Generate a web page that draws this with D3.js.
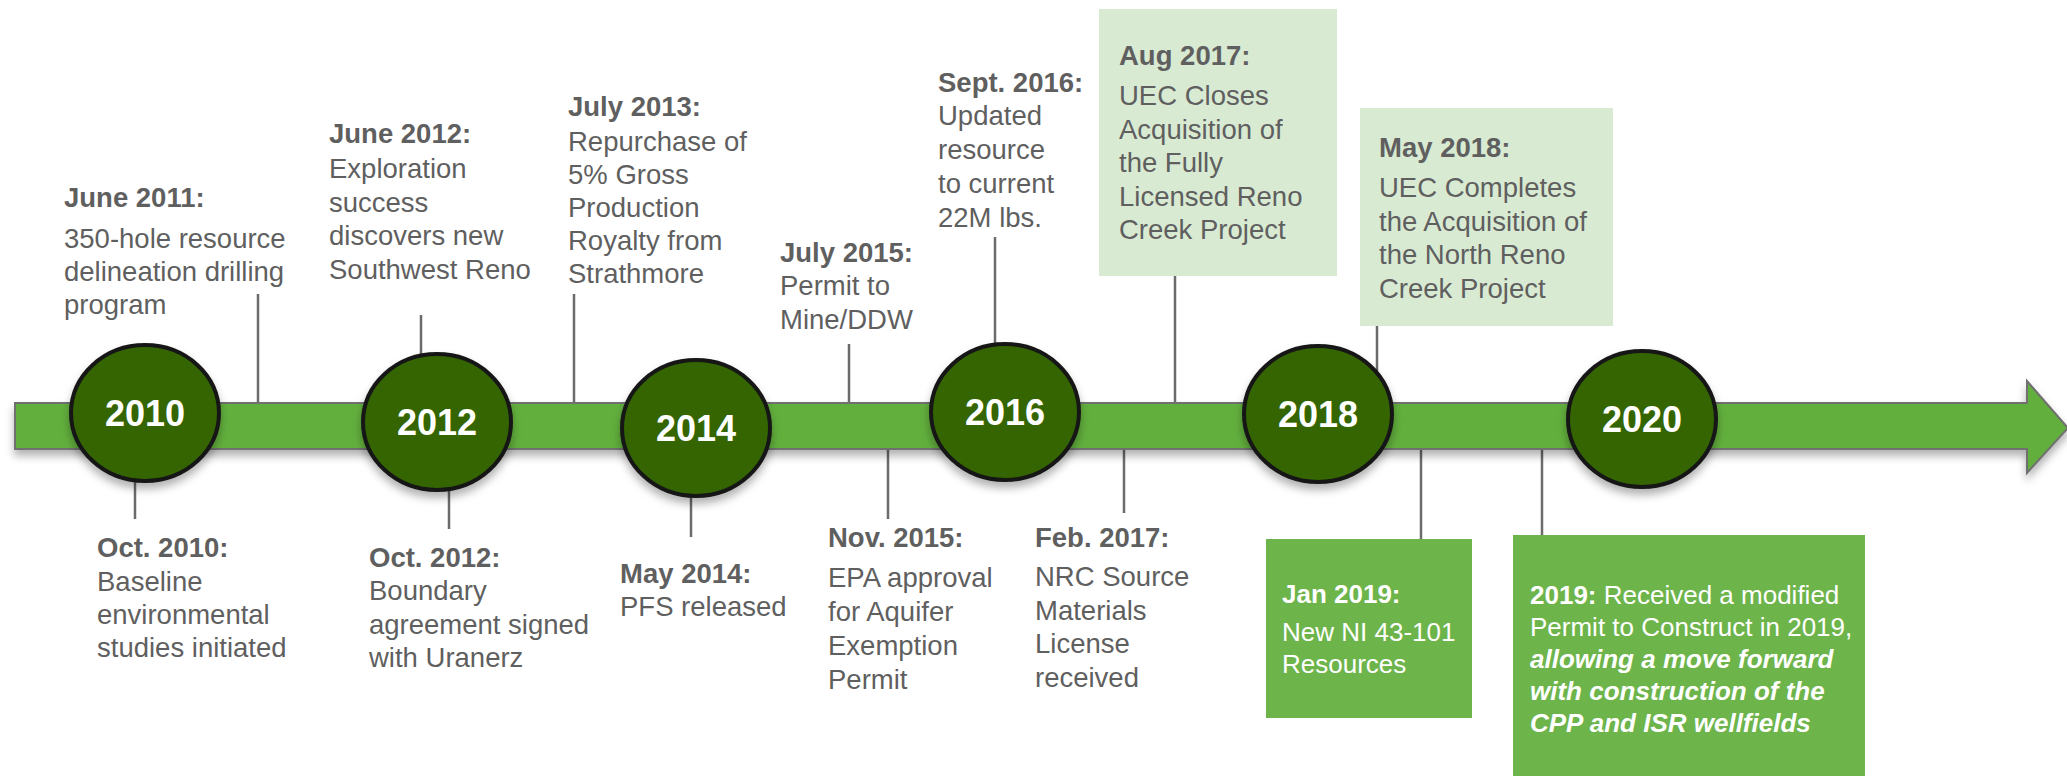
<!DOCTYPE html>
<meta charset='utf-8'>

<style>
  body { margin: 0; background: #fff; }
  svg text { font-family: "Liberation Sans", Arial, Helvetica, sans-serif; }
  .event-title { font-weight: bold; }
  .emph { font-weight: bold; font-style: italic; }
  .year { font-weight: bold; fill: #fff; }
  .connector { stroke: #6b6b6b; stroke-width: 2.5; }
</style>

<svg width="2067" height="776"></svg>

<script src="https://d3js.org/d3.v7.min.js"></script>

<script>

// ---- data ----
var years = [2010, 2012, 2014, 2016, 2018, 2020];

var eventDates = ["Oct. 2010:", "June 2011:", "June 2012:", "Oct. 2012:", "July 2013:",
                  "May 2014:", "July 2015:", "Nov. 2015:", "Sept. 2016:", "Feb. 2017:",
                  "Aug 2017:", "May 2018:", "Jan 2019:", "2019:"];

var eventText = [
  ["Baseline", "environmental", "studies initiated"],
  ["350-hole resource", "delineation drilling", "program"],
  ["Exploration", "success", "discovers new", "Southwest Reno"],
  ["Boundary", "agreement signed", "with Uranerz"],
  ["Repurchase of", "5% Gross", "Production", "Royalty from", "Strathmore"],
  ["PFS released"],
  ["Permit to", "Mine/DDW"],
  ["EPA approval", "for Aquifer", "Exemption", "Permit"],
  ["Updated", "resource", "to current", "22M lbs."],
  ["NRC Source", "Materials", "License", "received"],
  ["UEC Closes", "Acquisition of", "the Fully", "Licensed Reno", "Creek Project"],
  ["UEC Completes", "the Acquisition of", "the North Reno", "Creek Project"],
  ["New NI 43-101", "Resources"],
  ["Received a modified", "Permit to Construct in 2019,", "allowing a move forward",
   "with construction of the", "CPP and ISR wellfields"]
];

// which side of the arrow each note sits on
var eventSide = ["down", "up", "up", "down", "up", "down", "up", "down", "up", "down",
                 "up", "up", "down", "down"];

// ---- layout (hand placed, as in the slide) ----
var yearX = [145, 437, 696, 1005, 1318, 1642];
var yearY = [413, 422, 428, 412, 414, 419];

var layout = [
  {lx: 135,  end: 519, tx: 97,   ty: 557, by: 591, lh: 33},
  {lx: 258,  end: 294, tx: 64,   ty: 207, by: 248, lh: 33},
  {lx: 421,  end: 315, tx: 329,  ty: 143, by: 178, lh: 33.5},
  {lx: 449,  end: 529, tx: 369,  ty: 567, by: 600, lh: 33.5},
  {lx: 574,  end: 294, tx: 568,  ty: 116, by: 151, lh: 33},
  {lx: 691,  end: 537, tx: 620,  ty: 583, by: 616, lh: 33},
  {lx: 849,  end: 344, tx: 780,  ty: 262, by: 295, lh: 34},
  {lx: 888,  end: 519, tx: 828,  ty: 547, by: 587, lh: 34},
  {lx: 995,  end: 237, tx: 938,  ty: 92,  by: 125, lh: 34},
  {lx: 1124, end: 513, tx: 1035, ty: 547, by: 586, lh: 33.5},
  {lx: 1175, end: 276, tx: 1119, ty: 65,  by: 105, lh: 33.5, box: [1099, 9, 1337, 276], fill: "#d9ead3"},
  {lx: 1377, end: 326, tx: 1379, ty: 157, by: 197, lh: 33.5, box: [1360, 108, 1613, 326], fill: "#d9ead3"},
  {lx: 1421, end: 539, tx: 1282, ty: 603, by: 641, lh: 32, box: [1266, 539, 1472, 718], fill: "#6db44b", white: true, size: 26},
  {lx: 1542, end: 535, tx: 1530, ty: 604, by: 604, lh: 32, box: [1513, 535, 1865, 776], fill: "#6db44b", white: true, size: 26, inline: true, emphFrom: 2}
];

var svg = d3.select("svg");

var shaftTop = 403, shaftBottom = 449;

var x = d3.scaleLinear().domain(years).range(yearX);
var y = d3.scaleOrdinal().domain(years).range(yearY);

// soft drop shadow for arrow + circles
var defs = svg.append("defs");
var f = defs.append("filter").attr("id", "shadow")
  .attr("x", "-10%").attr("y", "-20%").attr("width", "120%").attr("height", "150%");
f.append("feDropShadow")
  .attr("dx", 0).attr("dy", 6)
  .attr("stdDeviation", 4)
  .attr("flood-color", "#000")
  .attr("flood-opacity", 0.3);

// connectors (behind everything)
svg.append("g").selectAll("line")
  .data(layout)
  .enter()
  .append("line")
  .attr("class", "connector")
  .attr("x1", function(d) { return d.lx; })
  .attr("x2", function(d) { return d.lx; })
  .attr("y1", function(d, i) { return eventSide[i] == "up" ? shaftTop + 2 : shaftBottom - 2; })
  .attr("y2", function(d) { return d.end; });

// the arrow
var p = d3.path();
p.moveTo(15, shaftTop);
p.lineTo(2027, shaftTop);
p.lineTo(2027, 381);
p.lineTo(2068, 428);
p.lineTo(2027, 473);
p.lineTo(2027, shaftBottom);
p.lineTo(15, shaftBottom);
p.closePath();

svg.append("path")
  .attr("d", p.toString())
  .attr("fill", "#62af3c")
  .attr("stroke", "#707070")
  .attr("stroke-width", 2)
  .attr("filter", "url(#shadow)");

// year bubbles
var yr = svg.append("g").selectAll("g")
  .data(years)
  .enter()
  .append("g");

yr.append("ellipse")
  .attr("cx", function(d) { return x(d); })
  .attr("cy", function(d) { return y(d); })
  .attr("rx", 74)
  .attr("ry", 68)
  .attr("fill", "#346503")
  .attr("stroke", "#151515")
  .attr("stroke-width", 4)
  .attr("filter", "url(#shadow)");

yr.append("text")
  .attr("class", "year")
  .attr("x", function(d) { return x(d); })
  .attr("y", function(d) { return y(d) + 13; })
  .attr("text-anchor", "middle")
  .style("font-size", "36px")
  .text(function(d) { return d; });

// boxes
svg.append("g").selectAll("rect")
  .data(layout.filter(function(d) { return d.box; }))
  .enter()
  .append("rect")
  .attr("x", function(d) { return d.box[0]; })
  .attr("y", function(d) { return d.box[1]; })
  .attr("width", function(d) { return d.box[2] - d.box[0]; })
  .attr("height", function(d) { return d.box[3] - d.box[1]; })
  .attr("fill", function(d) { return d.fill; });

// notes
var notes = svg.append("g").selectAll("text")
  .data(eventDates)
  .enter()
  .append("text")
  .attr("fill", function(d, i) { return layout[i].white ? "#fff" : "#5f5f5f"; })
  .style("font-size", function(d, i) { return (layout[i].size || 27.5) + "px"; });

notes.each(function(d, i) {
  var L = layout[i];
  var t = d3.select(this);
  t.append("tspan")
    .attr("class", "event-title")
    .attr("x", L.tx)
    .attr("y", L.ty)
    .text(d);
  eventText[i].forEach(function(line, k) {
    var s = t.append("tspan");
    if (L.inline && k == 0) {
      s.text(" " + line);
    } else {
      s.attr("x", L.tx)
        .attr("y", L.by + k * L.lh)
        .text(line);
    }
    if (L.emphFrom !== undefined && k >= L.emphFrom) s.attr("class", "emph");
  });
});

</script>
